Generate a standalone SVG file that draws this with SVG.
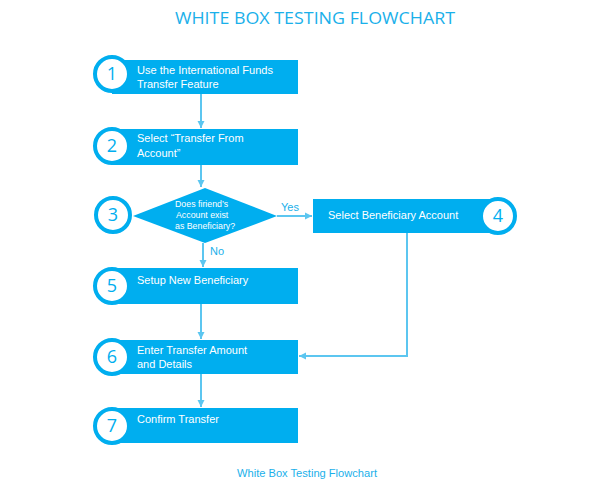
<svg xmlns="http://www.w3.org/2000/svg" width="596" height="489" viewBox="0 0 596 489">
<style>
.box{fill:#00aeef}
.ring{fill:#fff;stroke:#00aeef;stroke-width:4}
.num{font-family:"Open Sans","Liberation Sans",sans-serif;font-size:18px;fill:#00aeef;text-anchor:middle}
.lbl{font-family:"Liberation Sans",Arial,sans-serif;font-size:11px;fill:#fff}
.dlbl{font-family:"Liberation Sans",Arial,sans-serif;font-size:8.8px;fill:#fff}
.edge{fill:none;stroke:#5cc6f0;stroke-width:2}
.elbl{font-family:"Liberation Sans",Arial,sans-serif;font-size:11px;fill:#1ab0ea}
.title{font-family:"Open Sans","Liberation Sans",sans-serif;font-size:17px;fill:#1ab0ea;text-anchor:middle}
.cap{font-family:"Liberation Sans",Arial,sans-serif;font-size:10.5px;fill:#1ab0ea;text-anchor:middle}
</style>
<defs>
<marker id="ah" markerWidth="8" markerHeight="8" refX="7" refY="4" orient="auto" markerUnits="userSpaceOnUse">
<path d="M0,0.5 L7,4 L0,7.5 Z" fill="#5cc6f0"/>
</marker>
</defs>
<rect width="596" height="489" fill="#fff"/>
<text class="title" x="315" y="24" textLength="280" lengthAdjust="spacingAndGlyphs">WHITE BOX TESTING FLOWCHART</text>

<g id="connectors">
<path class="edge" d="M201,94 V128" marker-end="url(#ah)"/>
<path class="edge" d="M201,165 V187" marker-end="url(#ah)"/>
<path class="edge" d="M277,216 H312" marker-end="url(#ah)"/>
<text class="elbl" x="281" y="211">Yes</text>
<path class="edge" d="M203,243 V267" marker-end="url(#ah)"/>
<text class="elbl" x="210" y="255">No</text>
<path class="edge" d="M201,304 V339" marker-end="url(#ah)"/>
<path class="edge" d="M407,233 V356 H299" marker-end="url(#ah)"/>
<path class="edge" d="M201,374 V407" marker-end="url(#ah)"/>
</g>

<g id="node1">
<rect class="box" x="112" y="60" width="186" height="34"/>
<circle class="ring" cx="112" cy="74" r="17"/>
<text class="num" x="112" y="80">1</text>
<text class="lbl" x="137" y="74" textLength="136" lengthAdjust="spacingAndGlyphs">Use the International Funds</text>
<text class="lbl" x="137" y="88">Transfer Feature</text>
</g>

<g id="node2">
<rect class="box" x="112" y="129" width="186" height="36"/>
<circle class="ring" cx="112" cy="146" r="17"/>
<text class="num" x="112" y="152">2</text>
<text class="lbl" x="137" y="142">Select “Transfer From</text>
<text class="lbl" x="137" y="157">Account”</text>
</g>

<g id="node3">
<polygon class="box" points="205,188 277,216 205,243 133,216"/>
<circle class="ring" cx="113" cy="215" r="17"/>
<text class="num" x="113" y="221">3</text>
<text class="dlbl" x="175" y="207">Does firiend’s</text>
<text class="dlbl" x="176" y="218">Account exist</text>
<text class="dlbl" x="175" y="229">as Beneficiary?</text>
</g>

<g id="node4">
<rect class="box" x="313" y="199" width="180" height="34"/>
<circle class="ring" cx="498" cy="216" r="17"/>
<text class="num" x="498" y="222">4</text>
<text class="lbl" x="328" y="219">Select Beneficiary Account</text>
</g>

<g id="node5">
<rect class="box" x="112" y="268" width="186" height="36"/>
<circle class="ring" cx="112" cy="286" r="17"/>
<text class="num" x="112" y="292">5</text>
<text class="lbl" x="137" y="284">Setup New Beneficiary</text>
</g>

<g id="node6">
<rect class="box" x="112" y="340" width="186" height="34"/>
<circle class="ring" cx="112" cy="357" r="17"/>
<text class="num" x="112" y="363">6</text>
<text class="lbl" x="137" y="354">Enter Transfer Amount</text>
<text class="lbl" x="137" y="368">and Details</text>
</g>

<g id="node7">
<rect class="box" x="112" y="408" width="186" height="35"/>
<circle class="ring" cx="112" cy="426" r="17"/>
<text class="num" x="112" y="432">7</text>
<text class="lbl" x="137" y="423">Confirm Transfer</text>
</g>

<text class="cap" x="307" y="477" textLength="140" lengthAdjust="spacingAndGlyphs">White Box Testing Flowchart</text>
</svg>
